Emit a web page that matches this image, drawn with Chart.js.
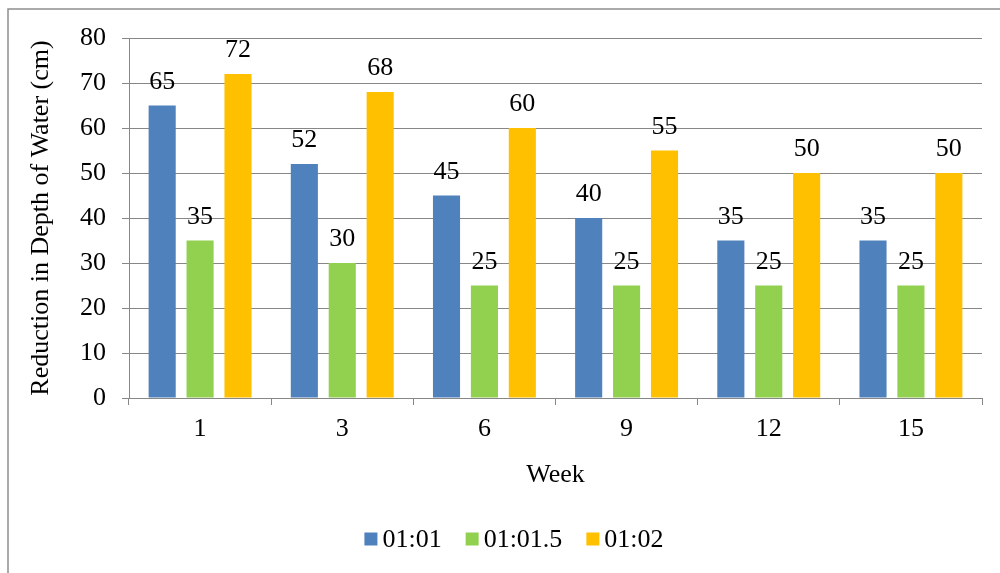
<!DOCTYPE html>
<html>
<head>
<meta charset="utf-8">
<title>Reduction in Depth of Water</title>
<script src="https://cdn.jsdelivr.net/npm/chart.js@4/dist/chart.umd.min.js"></script>
<style>
  html, body { margin: 0; padding: 0; background: #fff; }
  canvas { display: block; }
  .fontwarm { font-family: "Liberation Serif"; position: absolute; left: -9999px; top: 0; }
</style>
</head>
<body>
<span class="fontwarm">0123456789 Week</span>
<canvas id="chart" width="1000" height="573"></canvas>
<script>
// Weeks on the x axis
const weeks = ['1', '3', '6', '9', '12', '15'];
// Series names (mixing ratios)
const seriesNames = ['01:01', '01:01.5', '01:02'];
// Reduction in depth of water (cm) per series
const ratio1to1 = [65, 52, 45, 40, 35, 35];
const ratio1to15 = [35, 30, 25, 25, 25, 25];
const ratio1to2 = [72, 68, 60, 55, 50, 50];
// Value axis ticks
const yTicks = [0, 10, 20, 30, 40, 50, 60, 70, 80];

const colors = ['#4F81BD', '#92D050', '#FFC000'];
const FONT_FAMILY = '"Liberation Serif", "Times New Roman", Times, serif';
const FONT_SIZE = 26;
const FONT = FONT_SIZE + 'px ' + FONT_FAMILY;
const AXIS_GREY = '#878787';

// White background plus the thin frame along the top and left edges
const framePlugin = {
  id: 'frame',
  beforeDraw(chart) {
    const { ctx, width, height } = chart;
    ctx.save();
    ctx.fillStyle = '#fff';
    ctx.fillRect(0, 0, width, height);
    ctx.strokeStyle = '#8f8f8f';
    ctx.lineWidth = 1.5;
    ctx.beginPath();
    ctx.moveTo(8, height);
    ctx.lineTo(8, 9);
    ctx.lineTo(width, 9);
    ctx.stroke();
    ctx.restore();
  }
};

// Value printed above every bar
const valueLabels = {
  id: 'valueLabels',
  afterDatasetsDraw(chart) {
    const ctx = chart.ctx;
    ctx.save();
    ctx.font = FONT;
    ctx.fillStyle = '#000';
    ctx.textAlign = 'center';
    ctx.textBaseline = 'alphabetic';
    chart.data.datasets.forEach((ds, i) => {
      chart.getDatasetMeta(i).data.forEach((bar, j) => {
        ctx.fillText(String(ds.data[j]), bar.x, bar.y - 17);
      });
    });
    ctx.restore();
  }
};

// Legend row below the axis title, small square swatches
const bottomLegend = {
  id: 'bottomLegend',
  afterDraw(chart) {
    const ctx = chart.ctx;
    const box = 13, gapText = 5, gapItem = 24;
    const centerX = 514, centerY = 539;
    ctx.save();
    ctx.font = FONT;
    const items = chart.data.datasets.map(ds => ({
      text: ds.label, color: ds.backgroundColor, w: ctx.measureText(ds.label).width
    }));
    const total = items.reduce((s, it) => s + box + gapText + it.w, 0) + gapItem * (items.length - 1);
    let x = centerX - total / 2;
    ctx.textBaseline = 'middle';
    ctx.textAlign = 'left';
    items.forEach(it => {
      ctx.fillStyle = it.color;
      ctx.fillRect(x, centerY - box / 2, box, box);
      x += box + gapText;
      ctx.fillStyle = '#000';
      ctx.fillText(it.text, x, centerY + 1);
      x += it.w + gapItem;
    });
    ctx.restore();
  }
};

const seriesData = [ratio1to1, ratio1to15, ratio1to2];

function drawChart() {
  new Chart(document.getElementById('chart'), {
    type: 'bar',
    data: {
      labels: weeks,
      datasets: seriesNames.map((name, i) => ({
        label: name,
        data: seriesData[i],
        backgroundColor: colors[i],
        borderWidth: 0,
        categoryPercentage: 0.8,
        barPercentage: 0.715
      }))
    },
    options: {
      responsive: false,
      animation: false,
      devicePixelRatio: 1,
      layout: { padding: { left: 0, top: 38, right: 18, bottom: 82.5 } },
      plugins: {
        legend: { display: false },
        tooltip: { enabled: false }
      },
      scales: {
        x: {
          grid: {
            display: true,
            drawOnChartArea: false,
            drawTicks: true,
            tickLength: 7,
            color: AXIS_GREY,
            offset: true
          },
          border: { display: true, color: AXIS_GREY, width: 1 },
          ticks: {
            color: '#000',
            font: { family: FONT_FAMILY, size: FONT_SIZE },
            padding: 9,
            maxRotation: 0
          },
          title: {
            display: true,
            text: 'Week',
            color: '#000',
            font: { family: FONT_FAMILY, size: FONT_SIZE },
            padding: { top: 0, bottom: 0 }
          },
          afterFit(scale) { scale.height = 92.5; }
        },
        y: {
          min: 0,
          max: 80,
          afterBuildTicks(scale) { scale.ticks = yTicks.map(v => ({ value: v })); },
          grid: {
            color: AXIS_GREY,
            tickLength: 7,
            drawTicks: true
          },
          border: { display: true, color: AXIS_GREY, width: 1 },
          ticks: {
            color: '#000',
            font: { family: FONT_FAMILY, size: FONT_SIZE },
            padding: 16
          },
          title: {
            display: true,
            text: 'Reduction in Depth of Water (cm)',
            color: '#000',
            font: { family: FONT_FAMILY, size: FONT_SIZE },
            padding: { top: 26, bottom: 0 }
          },
          afterFit(scale) { scale.width = 129; }
        }
      }
    },
    plugins: [framePlugin, valueLabels, bottomLegend]
  });
}

// Make sure the serif face is ready before the canvas text is laid out
if (document.fonts && document.fonts.load) {
  document.fonts.load(FONT_SIZE + 'px "Liberation Serif"').then(drawChart, drawChart);
} else {
  drawChart();
}
</script>
</body>
</html>
